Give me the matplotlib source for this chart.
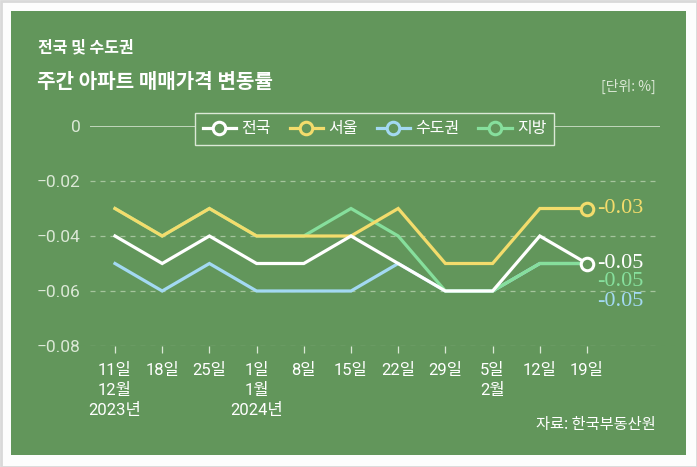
import matplotlib
matplotlib.use("Agg")
import matplotlib.pyplot as plt
from matplotlib.patches import Rectangle
from matplotlib.lines import Line2D

plt.rcParams['font.family'] = ['Noto Sans CJK KR', 'DejaVu Sans']

# data
days = ["11일", "18일", "25일", "1일", "8일", "15일", "22일", "29일", "5일", "12일", "19일"]
months = ["12월", "", "", "1월", "", "", "", "", "2월", "", ""]
years = ["2023년", "", "", "2024년", "", "", "", "", "", "", ""]

nation = [-0.04, -0.05, -0.04, -0.05, -0.05, -0.04, -0.05, -0.06, -0.06, -0.04, -0.05]
seoul = [-0.03, -0.04, -0.03, -0.04, -0.04, -0.04, -0.03, -0.05, -0.05, -0.03, -0.03]
capital = [-0.05, -0.06, -0.05, -0.06, -0.06, -0.06, -0.05, -0.06, -0.06, -0.05, -0.05]
region = [-0.03, -0.04, -0.03, -0.04, -0.04, -0.03, -0.04, -0.06, -0.06, -0.05, -0.05]

BG = '#62965b'
WHITE = '#ffffff'
YELLOW = '#f3dc6c'
BLUE = '#a3d9f2'
GREEN = '#86df9c'
LIGHT = '#dbe8d6'

W, H = 697, 467
fig = plt.figure(figsize=(W / 100, H / 100), dpi=100)
fig.patch.set_facecolor('white')

# outer border + green panel
fig.patches.append(Rectangle((0.5 / W, 0.5 / H), 1 - 1 / W, 1 - 1 / H, transform=fig.transFigure,
                             facecolor='#fdfdfd', edgecolor='#d9d9d9', lw=2, zorder=-3))
fig.patches.append(Rectangle((11 / W, 1 - 455 / H), 675 / W, 444 / H, transform=fig.transFigure,
                             facecolor=BG, edgecolor='none', zorder=-2))

ax = fig.add_axes([90 / W, 1 - 346 / H, 570 / W, 220 / H])
ax.set_facecolor('none')
for s in ax.spines.values():
    s.set_visible(False)

step = 47.2
ax.set_xlim(-25 / step, 10 + 73 / step)
ax.set_ylim(-0.08, 0)

x = list(range(len(days)))

# grid lines
ax.axhline(0, color=LIGHT, lw=1.1, zorder=1)
for v in [-0.02, -0.04, -0.06, -0.08]:
    ax.axhline(v, color='#a5c49d', lw=0.9, dashes=(4, 4), zorder=1)

ax.plot(x, region, color=GREEN, lw=2.3, zorder=3, solid_joinstyle='miter')
ax.plot(x, capital, color=BLUE, lw=2.3, zorder=2, solid_joinstyle='miter')
ax.plot(x, seoul, color=YELLOW, lw=2.3, zorder=4, solid_joinstyle='miter')
ax.plot(x, nation, color=WHITE, lw=2.3, zorder=5, solid_joinstyle='miter')

# end markers
ax.plot(x[-1], seoul[-1], 'o', ms=9, mfc=BG, mec=YELLOW, mew=2.2, zorder=6)
ax.plot(x[-1], nation[-1], 'o', ms=9, mfc=BG, mec=WHITE, mew=2.2, zorder=6)

# end labels
lab_font = dict(family='Liberation Serif', fontsize=16, va='center', ha='left', annotation_clip=False)
ax.annotate("-0.03", (x[-1], seoul[-1]), xytext=(7.5, 0), textcoords='offset points', color=YELLOW, **lab_font)
ax.annotate("-0.05", (x[-1], nation[-1]), xytext=(7.5, 0), textcoords='offset points', color=WHITE, **lab_font)
ax.annotate("-0.05", (x[-1], region[-1]), xytext=(7.5, -13), textcoords='offset points', color=GREEN, **lab_font)
ax.annotate("-0.05", (x[-1], capital[-1]), xytext=(7.5, -27), textcoords='offset points', color=BLUE, **lab_font)

# axes ticks
ax.set_yticks([0, -0.02, -0.04, -0.06, -0.08])
ax.set_yticklabels(["0", "−0.02", "−0.04", "−0.06", "−0.08"], family='Roboto', fontsize=12.5, color=LIGHT)
ax.tick_params(axis='y', length=0, pad=7)

labels = []
for d, m, yv in zip(days, months, years):
    labels.append("\n".join([d, m, yv]).rstrip("\n"))
ax.set_xticks(x)
ax.set_xticklabels(labels, family=['Roboto', 'Noto Sans CJK KR'], fontsize=12, color=WHITE,
                   linespacing=1.42, va='top')
ax.tick_params(axis='x', length=5, width=0.9, color=LIGHT, pad=7, direction='out')

# legend
handles = [
    Line2D([], [], color=WHITE, lw=2.3, marker='o', ms=9, mfc=BG, mec=WHITE, mew=2.2),
    Line2D([], [], color=YELLOW, lw=2.3, marker='o', ms=9, mfc=BG, mec=YELLOW, mew=2.2),
    Line2D([], [], color=BLUE, lw=2.3, marker='o', ms=9, mfc=BG, mec=BLUE, mew=2.2),
    Line2D([], [], color=GREEN, lw=2.3, marker='o', ms=9, mfc=BG, mec=GREEN, mew=2.2),
]
leg = fig.legend(handles, ["전국", "서울", "수도권", "지방"], ncol=4, loc='center',
                 bbox_to_anchor=(374.5 / W, 1 - 129 / H), frameon=True, fancybox=False,
                 facecolor=BG, edgecolor=LIGHT, framealpha=1, fontsize=11.5,
                 handlelength=2.1, handletextpad=0.3, columnspacing=1.2, borderpad=0.5,
                 labelcolor=WHITE)
leg.get_frame().set_linewidth(1.0)
leg.set_zorder(10)

# titles
fig.text(38 / W, 1 - 47 / H, "전국 및 수도권", fontsize=11.5, fontweight='bold', color=WHITE, va='center', ha='left')
fig.text(37 / W, 1 - 81 / H, "주간 아파트 매매가격 변동률", fontsize=14.5, fontweight='bold', color=WHITE, va='center', ha='left')
fig.text(656 / W, 1 - 86 / H, "[단위: %]", fontsize=10, color=LIGHT, va='center', ha='right')
fig.text(656 / W, 1 - 425 / H, "자료: 한국부동산원", fontsize=11, color=WHITE, va='center', ha='right')

fig.savefig("out.png", dpi=100, facecolor=fig.get_facecolor())
